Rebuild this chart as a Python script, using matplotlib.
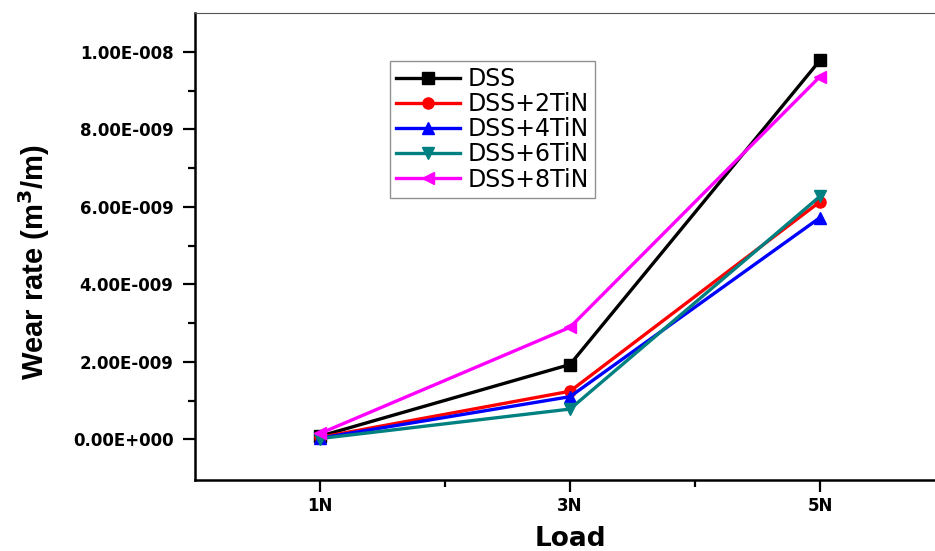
import matplotlib
matplotlib.use("Agg")
import matplotlib.pyplot as plt
from matplotlib.ticker import FixedLocator

plt.rcParams['font.family'] = ['DejaVu Sans']

loads = [1, 3, 5]
load_labels = ["1N", "3N", "5N"]

dss = [0.08e-9, 1.93e-9, 9.78e-9]
dss_2tin = [0.05e-9, 1.24e-9, 6.13e-9]
dss_4tin = [0.03e-9, 1.10e-9, 5.72e-9]
dss_6tin = [0.02e-9, 0.78e-9, 6.27e-9]
dss_8tin = [0.15e-9, 2.89e-9, 9.36e-9]

series = [
    ("DSS", dss, "#000000", "s"),
    ("DSS+2TiN", dss_2tin, "#ff0000", "o"),
    ("DSS+4TiN", dss_4tin, "#0000ff", "^"),
    ("DSS+6TiN", dss_6tin, "#008080", "v"),
    ("DSS+8TiN", dss_8tin, "#ff00ff", "<"),
]

y_ticks = [0, 2e-9, 4e-9, 6e-9, 8e-9, 1e-8]
y_labels = ["0.00E+000", "2.00E-009", "4.00E-009", "6.00E-009", "8.00E-009", "1.00E-008"]

fig = plt.figure(figsize=(9.35, 5.51), dpi=100)
W, H = 935, 551
left, right, top, bottom = 195, 945, 13, 480
ax = fig.add_axes([left / W, 1 - bottom / H, (right - left) / W, (bottom - top) / H])

for name, vals, color, marker in series:
    ax.plot(loads, vals, color=color, marker=marker, lw=2.4, ms=8, label=name)

ax.set_xlim(0, 6)
ax.set_ylim(-1.05e-9, 1.1e-8)

ax.xaxis.set_major_locator(FixedLocator(loads))
ax.set_xticklabels(load_labels)
ax.xaxis.set_minor_locator(FixedLocator([2, 4]))
ax.yaxis.set_major_locator(FixedLocator(y_ticks))
ax.set_yticklabels(y_labels)
ax.yaxis.set_minor_locator(FixedLocator([1e-9, 3e-9, 5e-9, 7e-9, 9e-9]))

ax.tick_params(axis='both', which='major', direction='out', length=8.5, width=1.6,
               labelsize=12)
ax.tick_params(axis='y', which='major', pad=7)
ax.tick_params(axis='x', which='major', pad=4)
ax.tick_params(axis='both', which='minor', direction='out', length=5, width=1.6)
for lab in ax.get_xticklabels() + ax.get_yticklabels():
    lab.set_fontweight('bold')

ax.spines['left'].set_linewidth(1.8)
ax.spines['bottom'].set_linewidth(1.8)
ax.spines['top'].set_linewidth(0.8)
ax.spines['top'].set_color('#555555')
ax.spines['right'].set_visible(False)

ax.set_xlabel("Load", fontsize=19, fontweight='bold', labelpad=8)
ax.set_ylabel("Wear rate (m$^\\mathbf{3}$/m)", fontsize=21, fontweight='bold',
              family=['Liberation Sans', 'DejaVu Sans'])
ax.yaxis.set_label_coords((52 - left) / (right - left), 1 - (262 - top) / (bottom - top))

leg = ax.legend(loc='upper left',
                bbox_to_anchor=((390 - left) / (right - left), 1 - (61 - top) / (bottom - top)),
                fontsize=17, frameon=True, fancybox=False, edgecolor='#777777',
                handlelength=2.7, borderpad=0.25, labelspacing=0.05, handletextpad=0.35,
                borderaxespad=0)
leg.get_frame().set_linewidth(1.0)

fig.savefig("out.png", dpi=100)
